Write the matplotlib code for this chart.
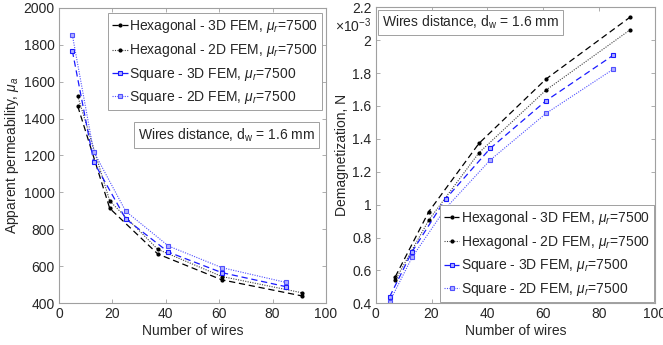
import matplotlib
matplotlib.use("Agg")
import matplotlib.pyplot as plt
from matplotlib.ticker import FuncFormatter

plt.rcParams['font.family'] = ['Liberation Sans', 'DejaVu Sans']
plt.rcParams['mathtext.fontset'] = 'custom'
plt.rcParams['mathtext.rm'] = 'Liberation Sans'
plt.rcParams['mathtext.it'] = 'Liberation Sans:italic'

# ---- data ----
hex_x = [7, 19, 37, 61, 91]
sq_x = [5, 13, 25, 41, 61, 85]

# apparent permeability
mu_hex_3d = [1468, 914, 667, 527, 440]
mu_hex_2d = [1522, 954, 692, 545, 457]
mu_sq_3d = [1767, 1166, 857, 677, 566, 490]
mu_sq_2d = [1852, 1221, 898, 710, 593, 513]

# demagnetization factor (x 1e-3)
N_hex_3d = [0.561, 0.957, 1.373, 1.764, 2.139]
N_hex_2d = [0.541, 0.906, 1.316, 1.697, 2.062]
N_sq_3d = [0.440, 0.713, 1.034, 1.342, 1.632, 1.908]
N_sq_2d = [0.410, 0.679, 0.977, 1.271, 1.555, 1.823]

labels = ["Hexagonal - 3D FEM, $\\mu_r$=7500",
          "Hexagonal - 2D FEM, $\\mu_r$=7500",
          "Square - 3D FEM, $\\mu_r$=7500",
          "Square - 2D FEM, $\\mu_r$=7500"]

W, H = 663, 345
fig = plt.figure(figsize=(W / 100, H / 100), dpi=100)
axL = fig.add_axes([59 / W, 41.7 / H, 267 / W, 295.6 / H])
axR = fig.add_axes([375.7 / W, 41.7 / H, 279.3 / W, 296 / H])

styles = [
    dict(color='black', ls=(0, (5, 3)), lw=0.9, marker='.', ms=4),
    dict(color='#404040', ls=(0, (1, 1.2)), lw=0.8, marker='.', ms=4, mfc='black', mec='black'),
    dict(color='#1a1aff', ls=(0, (5, 3)), lw=0.9, marker='s', ms=2.6, mfc='#b0b0ff', mec='#1a1aff', mew=0.8),
    dict(color='#5050ff', ls=(0, (1, 1.2)), lw=0.8, marker='s', ms=2.6, mfc='#b0b0ff', mec='#5050ff', mew=0.8),
]

tc = '#262626'
fs = 10


def style_axes(ax):
    for s in ax.spines.values():
        s.set_color('#a0a0a0')
        s.set_linewidth(0.8)
    ax.tick_params(direction='in', top=True, right=True, length=3,
                   color='#a0a0a0', labelcolor=tc, labelsize=fs, width=0.6, pad=3)


# left
series_L = [(hex_x, mu_hex_3d), (hex_x, mu_hex_2d), (sq_x, mu_sq_3d), (sq_x, mu_sq_2d)]
for (x, y), st, lab in zip(series_L, styles, labels):
    axL.plot(x, y, label=lab, **st)
axL.set_xlim(0, 100)
axL.set_ylim(400, 2000)
axL.set_xticks(range(0, 101, 20))
axL.set_yticks(range(400, 2001, 200))
style_axes(axL)
axL.set_xlabel("Number of wires", fontsize=fs, color=tc, labelpad=2)
axL.set_ylabel("Apparent permeability, $\\mu_a$", fontsize=fs, color=tc, labelpad=2)
legL = axL.legend(loc='upper right', bbox_to_anchor=(0.985, 0.982), borderaxespad=0,
                  fontsize=fs, handlelength=1.1, handletextpad=0.1, labelspacing=0.45,
                  fancybox=False, edgecolor='#a0a0a0', framealpha=1, borderpad=0.3)
legL.get_frame().set_linewidth(0.7)
for t in legL.get_texts():
    t.set_color(tc)
axL.text(0.628, 0.569, "Wires distance, d$_\\mathrm{w}$ = 1.6 mm", transform=axL.transAxes,
         ha='center', va='center', fontsize=fs, color=tc,
         bbox=dict(boxstyle='square,pad=0.3', fc='white', ec='#a0a0a0', lw=0.7))

# right
series_R = [(hex_x, N_hex_3d), (hex_x, N_hex_2d), (sq_x, N_sq_3d), (sq_x, N_sq_2d)]
for (x, y), st, lab in zip(series_R, styles, labels):
    axR.plot(x, y, label=lab, **st)
axR.set_xlim(0, 100)
axR.set_ylim(0.4, 2.2)
axR.set_xticks(range(0, 101, 20))
axR.set_yticks([0.4, 0.6, 0.8, 1.0, 1.2, 1.4, 1.6, 1.8, 2.0, 2.2])
axR.yaxis.set_major_formatter(FuncFormatter(lambda v, p: f"{v:g}"))
style_axes(axR)
axR.set_xlabel("Number of wires", fontsize=fs, color=tc, labelpad=2)
axR.set_ylabel("Demagnetization, N", fontsize=fs, color=tc, labelpad=2)
legR = axR.legend(loc='lower right', bbox_to_anchor=(1.0, 0.0), borderaxespad=0.1,
                  fontsize=fs, handlelength=1.1, handletextpad=0.1, labelspacing=0.45,
                  fancybox=False, edgecolor='#a0a0a0', framealpha=1, borderpad=0.3)
legR.get_frame().set_linewidth(0.7)
for t in legR.get_texts():
    t.set_color(tc)
axR.text(0.339, 0.949, "Wires distance, d$_\\mathrm{w}$ = 1.6 mm", transform=axR.transAxes,
         ha='center', va='center', fontsize=fs, color=tc,
         bbox=dict(boxstyle='square,pad=0.3', fc='white', ec='#a0a0a0', lw=0.7))
fig.text(335 / W, (H - 32) / H, "$\\times10^{-3}$", fontsize=fs, color=tc, ha='left', va='baseline')

fig.savefig("out.png", dpi=100)
